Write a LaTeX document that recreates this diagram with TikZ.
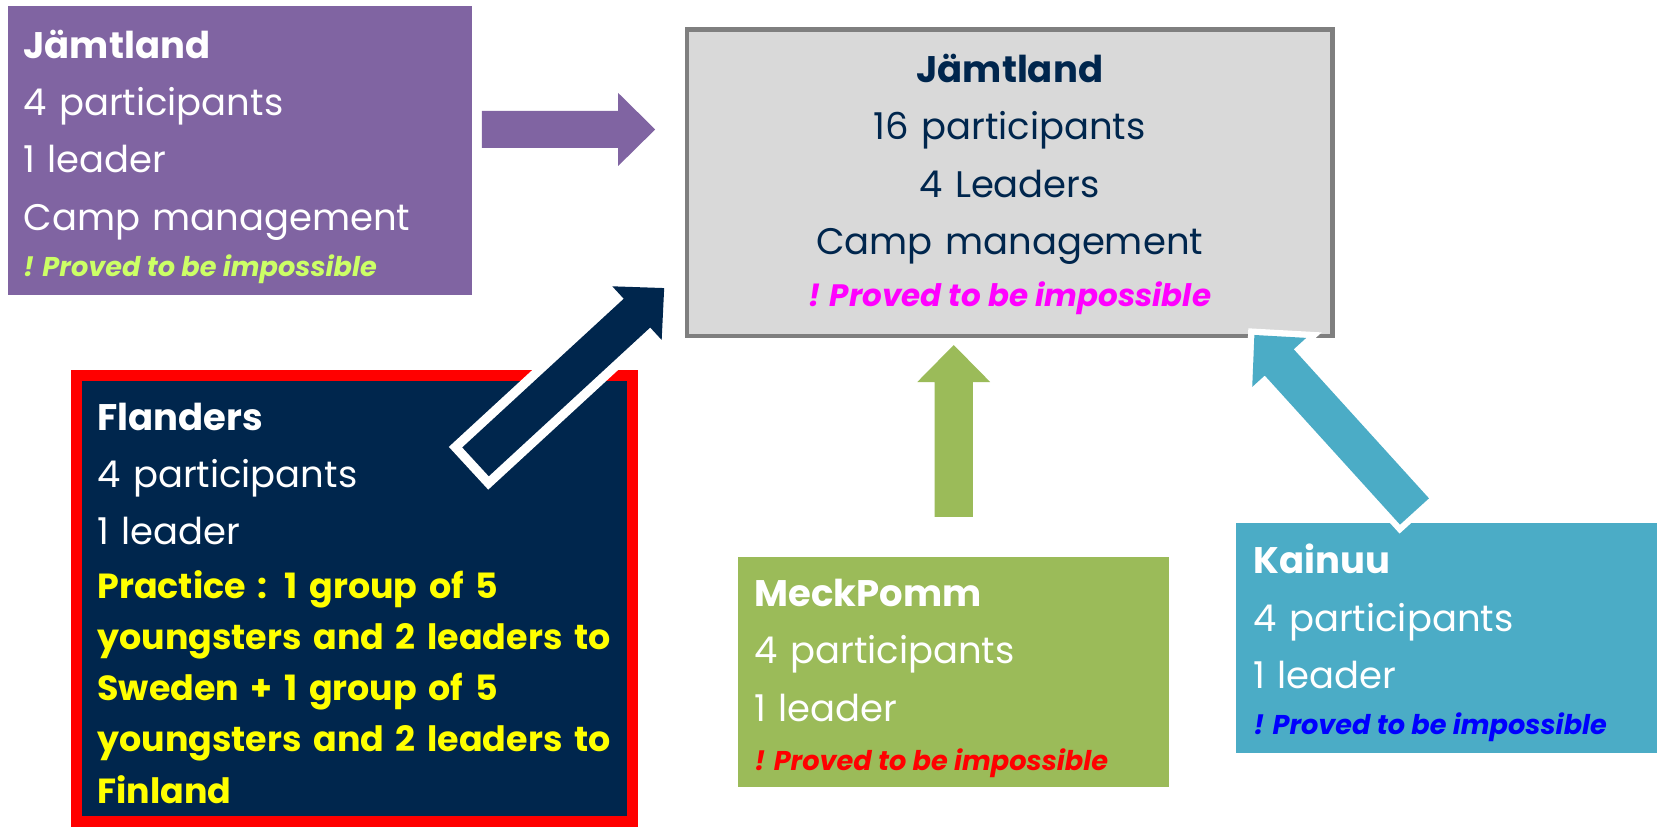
\documentclass[tikz,border=0pt]{standalone}
\usepackage{fontspec}
\setmainfont{Poppins}
\usetikzlibrary{calc,positioning}

\definecolor{jamtpurple}{RGB}{128,100,162}
\definecolor{campfill}{RGB}{217,217,217}
\definecolor{campline}{RGB}{127,127,127}
\definecolor{flnavy}{RGB}{0,38,77}
\definecolor{meckgreen}{RGB}{155,187,89}
\definecolor{kaiteal}{RGB}{75,172,198}
\definecolor{limenote}{RGB}{204,255,102}
\definecolor{pinknote}{RGB}{255,0,255}
\definecolor{plannote}{RGB}{255,255,0}
\definecolor{rednote}{RGB}{255,0,0}
\definecolor{bluenote}{RGB}{0,0,255}

% block arrow: options, tail, tip, shaft half-width, head half-width
\newcommand\blockarrow[5]{%
  \coordinate (ba-base) at ($(#3)!35pt!(#2)$);
  \fill[#1]
    ($(#2)!#4!90:(#3)$) -- ($(ba-base)!#4!90:(#3)$) -- ($(ba-base)!#5!90:(#3)$)
    -- (#3) -- ($(ba-base)!#5!-90:(#3)$) -- ($(ba-base)!#4!-90:(#3)$)
    -- ($(#2)!#4!-90:(#3)$) -- cycle;
}

\tikzset{
  box/.style={anchor=north west, inner sep=0pt, outer sep=0pt},
  txt/.style={anchor=base west, inner sep=0pt, text width=#1, align=left,
    font=\fontsize{35}{54.3}\selectfont},
  txt/.default=500pt,
  note/.style={anchor=base west, inner sep=0pt,
    font=\fontsize{#1}{#1}\selectfont\bfseries\itshape},
  note/.default=25.7,
  rim/.style={preaction={draw=white, line width=#1, line join=miter}},
}

\begin{document}
\begin{tikzpicture}[x=1pt, y=-1pt]
\useasboundingbox (0,0) rectangle (1568,783);

% boxes
\node[box, fill=jamtpurple, minimum width=439pt, minimum height=273pt] (jamt) at (8,6) {};
\node[box, fill=campfill, draw=campline, line width=4.5pt,
  minimum width=611pt, minimum height=290pt] (camp) at (650,28) {};
\node[box, fill=flnavy, draw=rednote, line width=11pt,
  minimum width=526pt, minimum height=422pt] (flan) at (72.5,355.5) {};
\node[box, fill=meckgreen, minimum width=408pt, minimum height=218pt] (meck) at (698,527) {};
\node[box, fill=kaiteal, minimum width=398pt, minimum height=218pt] (kain) at (1170,495) {};

% arrows into the camp box
\coordinate (jamt-out) at (456,122.5);
\coordinate (camp-w) at (620,122.5);
\coordinate (flan-out) at (450,437);
\coordinate (camp-sw) at (628.5,272.6);
\coordinate (meck-out) at (902.5,489);
\coordinate (camp-s) at (902.5,326.5);
\coordinate (kain-out) at (1338.5,484);
\coordinate (camp-se) at (1187,317);

\blockarrow{jamtpurple}{jamt-out}{camp-w}{17.5pt}{34.5pt}
\blockarrow{flnavy, rim=18pt}{flan-out}{camp-sw}{18.5pt}{34.5pt}
\blockarrow{meckgreen, rim=6pt}{meck-out}{camp-s}{18pt}{34.5pt}
\blockarrow{kaiteal, rim=12pt}{kain-out}{camp-se}{18.5pt}{34.5pt}

% texts
\node[txt=420pt, text=white] (jamt-txt) at (22,55)
  {\textbf{Jämtland}\\4 participants\\1 leader\\Camp management};
\node[note, text=limenote] (jamt-note) at (22,262) {! Proved to be impossible};

\node[txt=600pt, align=center, anchor=base, text=flnavy] (camp-txt) at (955.5,78)
  {\textbf{Jämtland}\\16 participants\\4 Leaders\\Camp management};
\node[note=29.3, anchor=base, text=pinknote] (camp-note) at (955.5,290) {! Proved to be impossible};

\node[txt, text=white] (flan-txt) at (92,407)
  {\textbf{Flanders}\\4 participants\\1 leader};
\node[txt=560pt, text=plannote, font=\fontsize{33}{48.5}\selectfont\bfseries] (flan-plan) at (92,566)
  {Practice : 1 group of 5\\youngsters and 2 leaders to\\Sweden + 1 group of 5\\youngsters and 2 leaders to\\Finland};

\node[txt=380pt, text=white] (meck-txt) at (714,574)
  {\textbf{MeckPomm}\\4 participants\\1 leader};
\node[note, text=rednote] (meck-note) at (714,729) {! Proved to be impossible};

\node[txt=370pt, text=white] (kain-txt) at (1186,543)
  {\textbf{Kainuu}\\4 participants\\1 leader};
\node[note, text=bluenote] (kain-note) at (1186,695) {! Proved to be impossible};
\end{tikzpicture}
\end{document}
